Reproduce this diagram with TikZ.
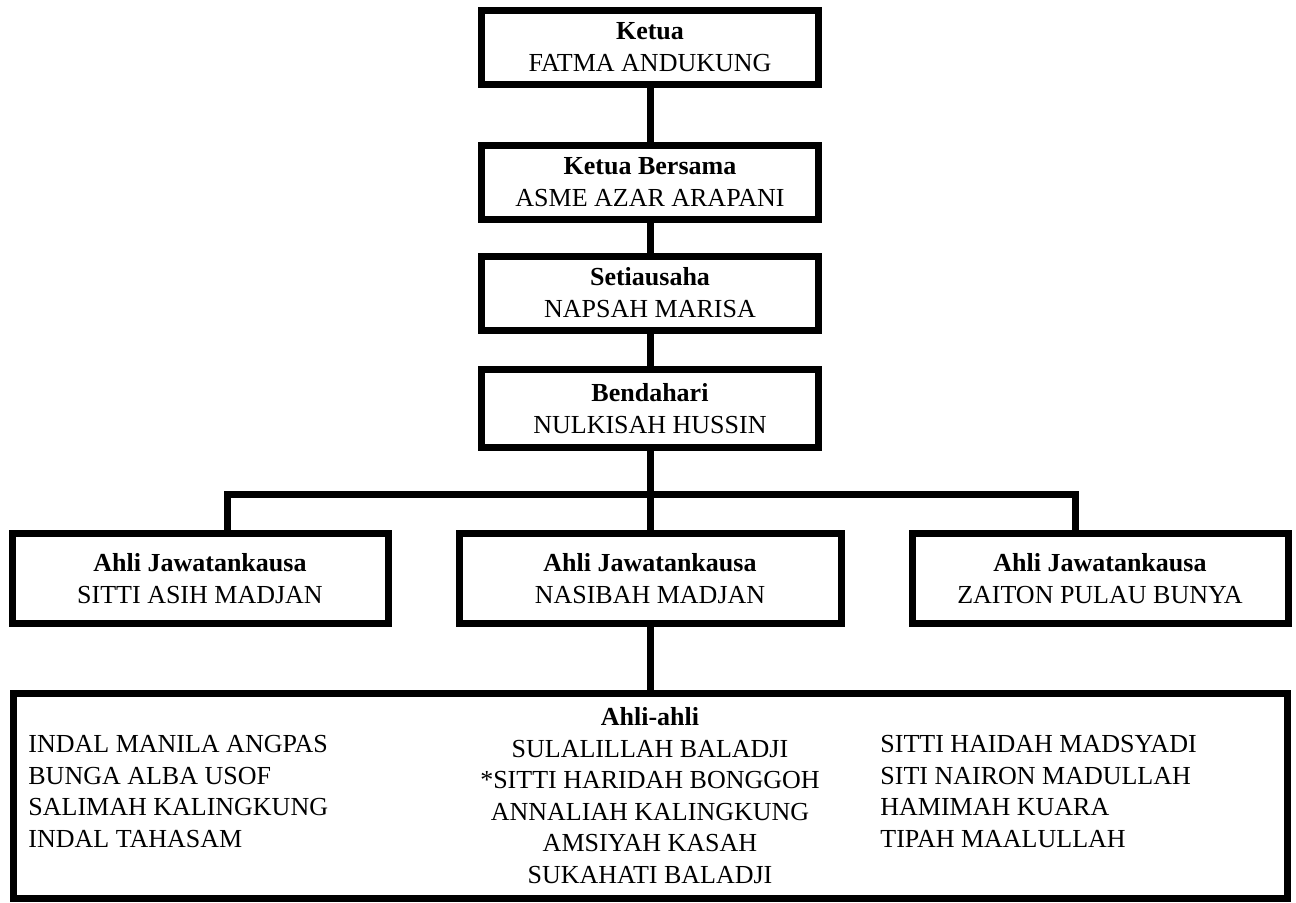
\documentclass[tikz,border=0pt]{standalone}
\usepackage{fontspec}
\setmainfont{Liberation Serif}
\begin{document}
\begin{tikzpicture}[
  x=0.5pt, y=-0.5pt,
  font=\fontsize{13}{16}\selectfont,
  post/.style={draw=black,line width=3.5pt,fill=white,align=center,inner sep=0pt,
               minimum width=168.5pt,minimum height=37pt},
  member/.style={post,minimum width=188pt,minimum height=45pt},
  roster/.style={inner sep=0pt,font=\fontsize{13}{15.75}\selectfont},
  link/.style={draw=black,line width=3.5pt}]
\useasboundingbox (0,0) rectangle (1296,902);

\node[post] (ketua)   at (650, 47.5) {\textbf{Ketua}\\FATMA ANDUKUNG};
\node[post] (bersama) at (650,182)   {\textbf{Ketua Bersama}\\ASME AZAR ARAPANI};
\node[post] (setia)   at (650,293)   {\textbf{Setiausaha}\\NAPSAH MARISA};
\node[post,minimum height=39pt] (bendahari) at (650,408.5) {\textbf{Bendahari}\\NULKISAH HUSSIN};

\node[member] (ajkA) at ( 200,578.5) {\textbf{Ahli Jawatankausa}\\SITTI ASIH MADJAN};
\node[member,minimum width=191pt] (ajkB) at ( 650,578.5) {\textbf{Ahli Jawatankausa}\\NASIBAH MADJAN};
\node[member] (ajkC) at (1100,578.5) {\textbf{Ahli Jawatankausa}\\ZAITON PULAU BUNYA};

\node[post,minimum width=637pt,minimum height=102.5pt] (ahli) at (650,796) {};
\node[roster,anchor=north,align=center] (colM) at (650,707.5)
  {\textbf{Ahli-ahli}\\SULALILLAH BALADJI\\*SITTI HARIDAH BONGGOH\\ANNALIAH KALINGKUNG\\AMSIYAH KASAH\\SUKAHATI BALADJI};
\node[roster,anchor=north west,align=left] (colL) at (28,735)
  {INDAL MANILA ANGPAS\\BUNGA ALBA USOF\\SALIMAH KALINGKUNG\\INDAL TAHASAM};
\node[roster,anchor=north west,align=left] (colR) at (880,735)
  {SITTI HAIDAH MADSYADI\\SITI NAIRON MADULLAH\\HAMIMAH KUARA\\TIPAH MAALULLAH};

\coordinate (barL) at ( 227,494);
\coordinate (barR) at (1075,494);

\draw[link] (ketua) -- (bersama);
\draw[link] (bersama) -- (setia);
\draw[link] (setia) -- (bendahari);
\draw[link] (bendahari) -- (ajkB);
\draw[link] (ajkA.north -| barL) -- (barL) -- (barR) -- (ajkC.north -| barR);
\draw[link] (ajkB) -- (ahli);
\end{tikzpicture}
\end{document}
